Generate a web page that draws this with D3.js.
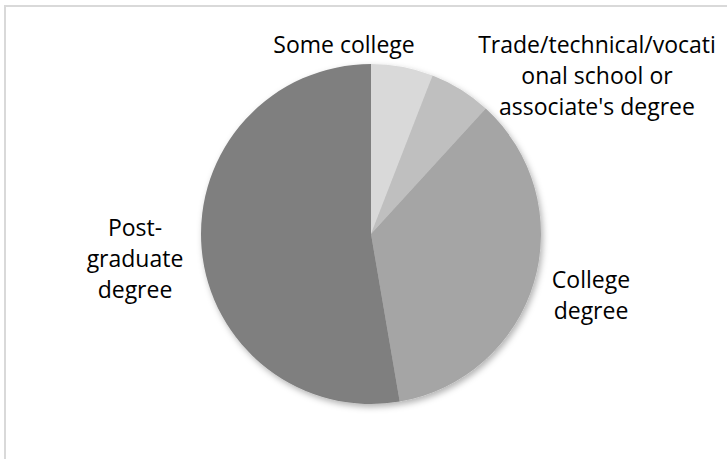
<!DOCTYPE html>
<html>
<head>
<meta charset="utf-8">
<script src="https://cdn.jsdelivr.net/npm/d3@7"></script>
<style>
  html, body { margin: 0; padding: 0; background: #fff; }
  svg { display: block; }
  text { font-family: "Open Sans", sans-serif; font-size: 23px; fill: #000; }
</style>
</head>
<body>
<svg id="chart" width="727" height="459"></svg>
<script>
// Education level shares (percent), clockwise from 12 o'clock
const categories = [
  "Some college",
  "Trade/technical/vocational school or associate's degree",
  "College degree",
  "Post-graduate degree"
];
const values = [5.9, 5.9, 35.5, 52.7];
const colors = ["#d9d9d9", "#bfbfbf", "#a5a5a5", "#7f7f7f"];

// Label lines as wrapped in the chart, with anchor points
const labelLines = [
  ["Some college"],
  ["Trade/technical/vocati", "onal school or", "associate's degree"],
  ["College", "degree"],
  ["Post-", "graduate", "degree"]
];
const labelPos = [
  { x: 344, y: 53 },
  { x: 597, y: 53 },
  { x: 591, y: 288 },
  { x: 135, y: 236 }
];
const lineStep = 31;

const svg = d3.select("#chart");

// Chart area frame
svg.append("rect")
  .attr("x", 5).attr("y", 6)
  .attr("width", 900).attr("height", 900)
  .attr("fill", "none")
  .attr("stroke", "#d9d9d9")
  .attr("stroke-width", 2);

const defs = svg.append("defs");
const shadow = defs.append("filter").attr("id", "pieShadow")
  .attr("x", "-20%").attr("y", "-20%").attr("width", "140%").attr("height", "140%");
shadow.append("feDropShadow")
  .attr("dx", 2).attr("dy", 3).attr("stdDeviation", 3)
  .attr("flood-color", "#000").attr("flood-opacity", 0.3);

const cx = 371, cy = 234, radius = 170;

const pie = d3.pie().sort(null).value(d => d.value);
const arc = d3.arc().innerRadius(0).outerRadius(radius);
const data = categories.map((c, i) => ({ name: c, value: values[i], color: colors[i] }));

const g = svg.append("g")
  .attr("transform", `translate(${cx},${cy})`)
  .attr("filter", "url(#pieShadow)");

g.selectAll("path")
  .data(pie(data))
  .join("path")
  .attr("d", arc)
  .attr("fill", d => d.data.color);

// Category labels
labelLines.forEach((lines, i) => {
  const t = svg.append("text")
    .attr("text-anchor", "middle")
    .attr("x", labelPos[i].x)
    .attr("y", labelPos[i].y);
  lines.forEach((line, j) => {
    t.append("tspan")
      .attr("x", labelPos[i].x)
      .attr("y", labelPos[i].y + j * lineStep)
      .text(line);
  });
});
</script>
</body>
</html>
